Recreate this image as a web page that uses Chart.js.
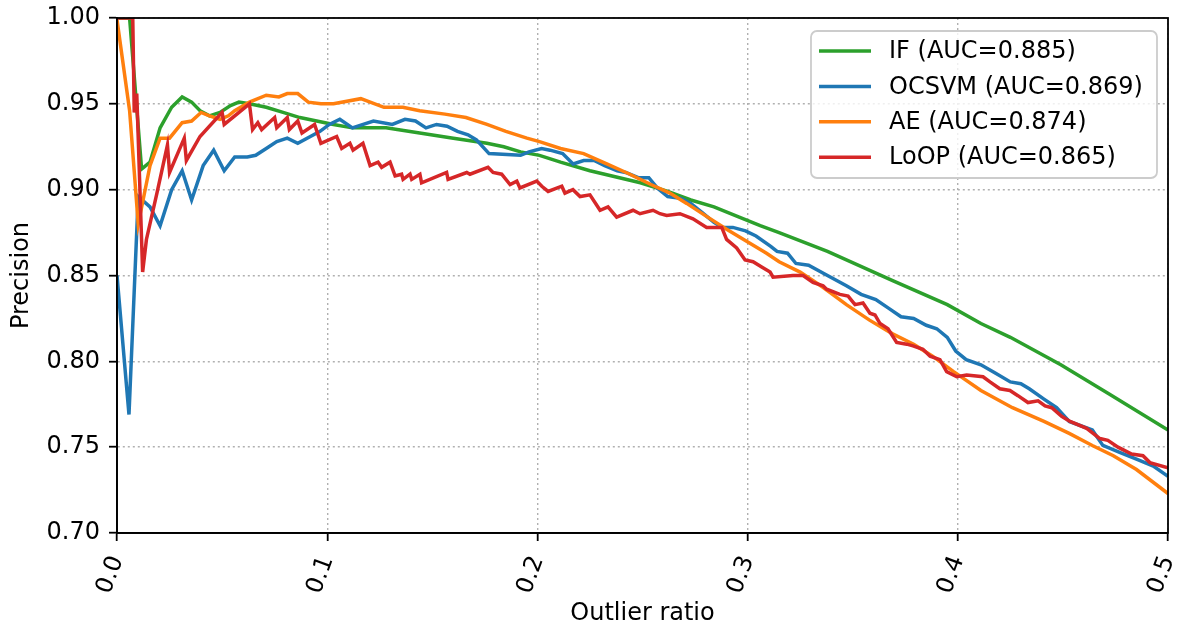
<!DOCTYPE html>
<html>
<head>
<meta charset="utf-8">
<script src="https://cdn.jsdelivr.net/npm/chart.js@4.4.1/dist/chart.umd.min.js"></script>
<style>
  html, body { margin: 0; padding: 0; background: #fff; }
  #wrap { width: 1185px; height: 628px; }
</style>
</head>
<body>
<div id="wrap"><canvas id="prChart" width="1185" height="628"></canvas></div>
<script>
// --- Data (x = outlier ratio, y = precision) ---
const seriesNames = ['IF (AUC=0.885)', 'OCSVM (AUC=0.869)', 'AE (AUC=0.874)', 'LoOP (AUC=0.865)'];
const seriesColors = ['#2ca02c', '#1f77b4', '#ff7f0e', '#d62728'];

const ifPts = [
  [0, 1.0], [0.006, 1.0], [0.0117, 0.912], [0.0157, 0.916], [0.0205, 0.936], [0.026, 0.948],
  [0.031, 0.954], [0.0355, 0.951], [0.0395, 0.946], [0.044, 0.943], [0.049, 0.945], [0.054, 0.949],
  [0.058, 0.951], [0.063, 0.950], [0.071, 0.948], [0.079, 0.945], [0.087, 0.942], [0.095, 0.940],
  [0.103, 0.938], [0.112, 0.936], [0.128, 0.936], [0.144, 0.933], [0.160, 0.930], [0.176, 0.927],
  [0.184, 0.925], [0.192, 0.922], [0.201, 0.920], [0.211, 0.916], [0.225, 0.911], [0.249, 0.904],
  [0.262, 0.899], [0.273, 0.894], [0.284, 0.890], [0.296, 0.884], [0.306, 0.879], [0.315, 0.875],
  [0.338, 0.864], [0.369, 0.847], [0.395, 0.833], [0.411, 0.822], [0.425, 0.814], [0.449, 0.798],
  [0.472, 0.781], [0.5, 0.760]
];

const ocsvmPts = [
  [0, 0.850], [0.0057, 0.769], [0.0101, 0.896], [0.0157, 0.890], [0.0205, 0.879], [0.026, 0.900],
  [0.031, 0.911], [0.0355, 0.894], [0.041, 0.914], [0.046, 0.923], [0.051, 0.911], [0.056, 0.919],
  [0.062, 0.919], [0.066, 0.920], [0.071, 0.924], [0.076, 0.928], [0.081, 0.930], [0.086, 0.927],
  [0.092, 0.931], [0.0966, 0.934], [0.101, 0.938], [0.106, 0.941], [0.112, 0.936], [0.122, 0.940],
  [0.131, 0.938], [0.137, 0.941], [0.142, 0.940], [0.147, 0.936], [0.152, 0.938], [0.157, 0.937],
  [0.162, 0.934], [0.167, 0.932], [0.171, 0.929], [0.177, 0.921], [0.192, 0.920], [0.196, 0.922],
  [0.202, 0.924], [0.206, 0.923], [0.212, 0.921], [0.217, 0.915], [0.222, 0.917], [0.227, 0.917],
  [0.232, 0.914], [0.238, 0.911], [0.242, 0.910], [0.248, 0.907], [0.253, 0.907], [0.257, 0.901],
  [0.262, 0.896], [0.268, 0.895], [0.273, 0.892], [0.279, 0.886], [0.284, 0.881], [0.288, 0.878],
  [0.293, 0.878], [0.299, 0.876], [0.304, 0.873], [0.311, 0.867], [0.314, 0.864], [0.319, 0.863],
  [0.323, 0.857], [0.329, 0.856], [0.338, 0.850], [0.347, 0.844], [0.354, 0.839], [0.361, 0.836],
  [0.367, 0.831], [0.373, 0.826], [0.379, 0.825], [0.385, 0.821], [0.390, 0.819], [0.395, 0.814],
  [0.399, 0.806], [0.404, 0.801], [0.411, 0.798], [0.418, 0.793], [0.425, 0.788], [0.430, 0.787],
  [0.434, 0.784], [0.441, 0.778], [0.447, 0.773], [0.453, 0.765], [0.464, 0.760], [0.469, 0.751],
  [0.477, 0.747], [0.485, 0.743], [0.493, 0.739], [0.5, 0.733]
];

const aePts = [
  [0, 0.999], [0.006, 0.946], [0.0101, 0.880], [0.0157, 0.914], [0.0205, 0.930], [0.025, 0.930],
  [0.031, 0.939], [0.0355, 0.940], [0.040, 0.945], [0.044, 0.943], [0.049, 0.941], [0.053, 0.943],
  [0.056, 0.946], [0.063, 0.951], [0.071, 0.955], [0.077, 0.954], [0.081, 0.956], [0.086, 0.956],
  [0.091, 0.951], [0.097, 0.950], [0.103, 0.950], [0.116, 0.953], [0.127, 0.948], [0.136, 0.948],
  [0.144, 0.946], [0.156, 0.944], [0.166, 0.942], [0.176, 0.938], [0.185, 0.934], [0.195, 0.930],
  [0.201, 0.928], [0.211, 0.924], [0.222, 0.921], [0.233, 0.915], [0.244, 0.909], [0.254, 0.903],
  [0.263, 0.898], [0.271, 0.892], [0.281, 0.884], [0.290, 0.877], [0.2995, 0.870], [0.309, 0.863],
  [0.315, 0.858], [0.325, 0.852], [0.336, 0.843], [0.347, 0.833], [0.358, 0.824], [0.369, 0.816],
  [0.379, 0.810], [0.388, 0.803], [0.398, 0.794], [0.411, 0.783], [0.426, 0.773], [0.441, 0.765],
  [0.453, 0.758], [0.464, 0.751], [0.474, 0.745], [0.485, 0.737], [0.5, 0.723]
];

const loopPts = [
  [0, 1.0], [0.0075, 1.0], [0.0082, 0.945], [0.0094, 0.956], [0.0122, 0.852], [0.014, 0.871],
  [0.019, 0.898], [0.024, 0.926], [0.025, 0.910], [0.032, 0.930], [0.033, 0.917], [0.0395, 0.931],
  [0.050, 0.945], [0.051, 0.938], [0.063, 0.950], [0.0645, 0.935], [0.067, 0.939], [0.0688, 0.935],
  [0.075, 0.942], [0.076, 0.936], [0.081, 0.942], [0.082, 0.935], [0.086, 0.940], [0.088, 0.933],
  [0.094, 0.938], [0.097, 0.927], [0.1045, 0.931], [0.1069, 0.924], [0.1108, 0.927], [0.1123, 0.923],
  [0.117, 0.927], [0.1204, 0.914], [0.1242, 0.916], [0.1259, 0.913], [0.1299, 0.916], [0.1323, 0.908],
  [0.1354, 0.909], [0.1361, 0.906], [0.1394, 0.909], [0.1402, 0.906], [0.1441, 0.909], [0.1449, 0.904],
  [0.1568, 0.910], [0.1575, 0.906], [0.1664, 0.910], [0.1679, 0.909], [0.1765, 0.913], [0.1789, 0.910],
  [0.183, 0.909], [0.187, 0.903], [0.1902, 0.905], [0.1917, 0.901], [0.1997, 0.905], [0.2021, 0.902],
  [0.2051, 0.899], [0.2116, 0.902], [0.2131, 0.898], [0.2169, 0.900], [0.2203, 0.896], [0.225, 0.897],
  [0.2298, 0.888], [0.2336, 0.890], [0.2377, 0.884], [0.2455, 0.888], [0.2488, 0.886], [0.255, 0.888],
  [0.2583, 0.886], [0.2615, 0.885], [0.2678, 0.886], [0.274, 0.883], [0.2805, 0.878], [0.2877, 0.878],
  [0.290, 0.871], [0.2948, 0.866], [0.2988, 0.859], [0.3026, 0.858], [0.3067, 0.855], [0.3107, 0.852],
  [0.3121, 0.849], [0.3216, 0.850], [0.3264, 0.850], [0.3311, 0.846], [0.3359, 0.844], [0.3376, 0.842],
  [0.3439, 0.839], [0.3478, 0.838], [0.3511, 0.833], [0.3549, 0.834], [0.3582, 0.828], [0.3606, 0.827],
  [0.363, 0.822], [0.3668, 0.819], [0.3709, 0.811], [0.3757, 0.810], [0.3787, 0.809], [0.3834, 0.807],
  [0.3868, 0.803], [0.3915, 0.801], [0.3947, 0.794], [0.3995, 0.791], [0.4042, 0.792], [0.412, 0.791],
  [0.4153, 0.788], [0.420, 0.784], [0.4248, 0.783], [0.4286, 0.780], [0.4334, 0.776], [0.4382, 0.777],
  [0.4415, 0.774], [0.4447, 0.773], [0.4494, 0.768], [0.4534, 0.765], [0.4613, 0.761], [0.4676, 0.755],
  [0.4714, 0.754], [0.4762, 0.750], [0.4827, 0.746], [0.4881, 0.745], [0.4914, 0.741], [0.5, 0.738]
];

const allPts = [ifPts, ocsvmPts, aePts, loopPts];

const FONT = { family: '"DejaVu Sans", sans-serif', size: 24 };

// frame on all four sides + matplotlib-like legend box in the upper right
const framePlugin = {
  id: 'frameAndLegend',
  afterDraw(chart) {
    const { ctx, chartArea: a } = chart;
    ctx.save();
    ctx.strokeStyle = '#000';
    ctx.lineWidth = 1.8;
    ctx.strokeRect(a.left, a.top, a.right - a.left, a.bottom - a.top);

    // legend
    const bw = 346, bh = 147;
    const bx = a.right - 11 - bw, by = a.top + 13;
    ctx.beginPath();
    ctx.roundRect(bx, by, bw, bh, 6);
    ctx.fillStyle = 'rgba(255,255,255,0.8)';
    ctx.fill();
    ctx.strokeStyle = '#cccccc';
    ctx.lineWidth = 1.8;
    ctx.stroke();

    ctx.font = FONT.size + 'px ' + FONT.family;
    ctx.textBaseline = 'middle';
    ctx.textAlign = 'left';
    chart.data.datasets.forEach((ds, i) => {
      const y = by + 20 + i * 35.4;
      ctx.strokeStyle = ds.borderColor;
      ctx.lineWidth = 3.5;
      ctx.beginPath();
      ctx.moveTo(bx + 8, y);
      ctx.lineTo(bx + 60, y);
      ctx.stroke();
      ctx.fillStyle = '#000';
      ctx.fillText(ds.label, bx + 78, y + 1);
    });
    ctx.restore();
  }
};

const ctx = document.getElementById('prChart').getContext('2d');
new Chart(ctx, {
  type: 'line',
  data: {
    datasets: allPts.map((pts, i) => ({
      label: seriesNames[i],
      data: pts.map(p => ({ x: p[0], y: p[1] })),
      borderColor: seriesColors[i],
      backgroundColor: seriesColors[i],
      borderWidth: 3.5,
      pointRadius: 0,
      tension: 0,
      fill: false,
      order: 4 - i
    }))
  },
  options: {
    responsive: false,
    animation: false,
    layout: { padding: { top: 18, right: 17, left: 0, bottom: 0 } },
    plugins: {
      legend: { display: false },
      tooltip: { enabled: false }
    },
    scales: {
      x: {
        type: 'linear',
        min: 0,
        max: 0.5,
        afterFit: s => { s.height = 95; s.paddingLeft = 0; s.paddingRight = 0; },
        ticks: {
          stepSize: 0.1,
          autoSkip: false,
          minRotation: 70,
          maxRotation: 70,
          padding: 11,
          color: '#000',
          font: FONT,
          callback: v => v.toFixed(1)
        },
        grid: { color: '#b0b0b0', lineWidth: 1.4, tickLength: 8, tickColor: '#000', tickWidth: 1.8, tickBorderDash: [] },
        border: { color: '#000', width: 1.8, dash: [2, 3] },
        title: { display: true, text: 'Outlier ratio', color: '#000', font: FONT, padding: { top: 0, bottom: 0 } }
      },
      y: {
        min: 0.7,
        max: 1.0,
        afterFit: s => { s.width = 117; s.paddingTop = 0; s.paddingBottom = 0; },
        ticks: {
          stepSize: 0.05,
          padding: 9,
          color: '#000',
          font: FONT,
          callback: v => v.toFixed(2)
        },
        grid: { color: '#b0b0b0', lineWidth: 1.4, tickLength: 8, tickColor: '#000', tickWidth: 1.8, tickBorderDash: [] },
        border: { color: '#000', width: 1.8, dash: [2, 3] },
        title: { display: true, text: 'Precision', color: '#000', font: FONT, padding: { top: 7, bottom: 0 } }
      }
    }
  },
  plugins: [framePlugin]
});
</script>
</body>
</html>
